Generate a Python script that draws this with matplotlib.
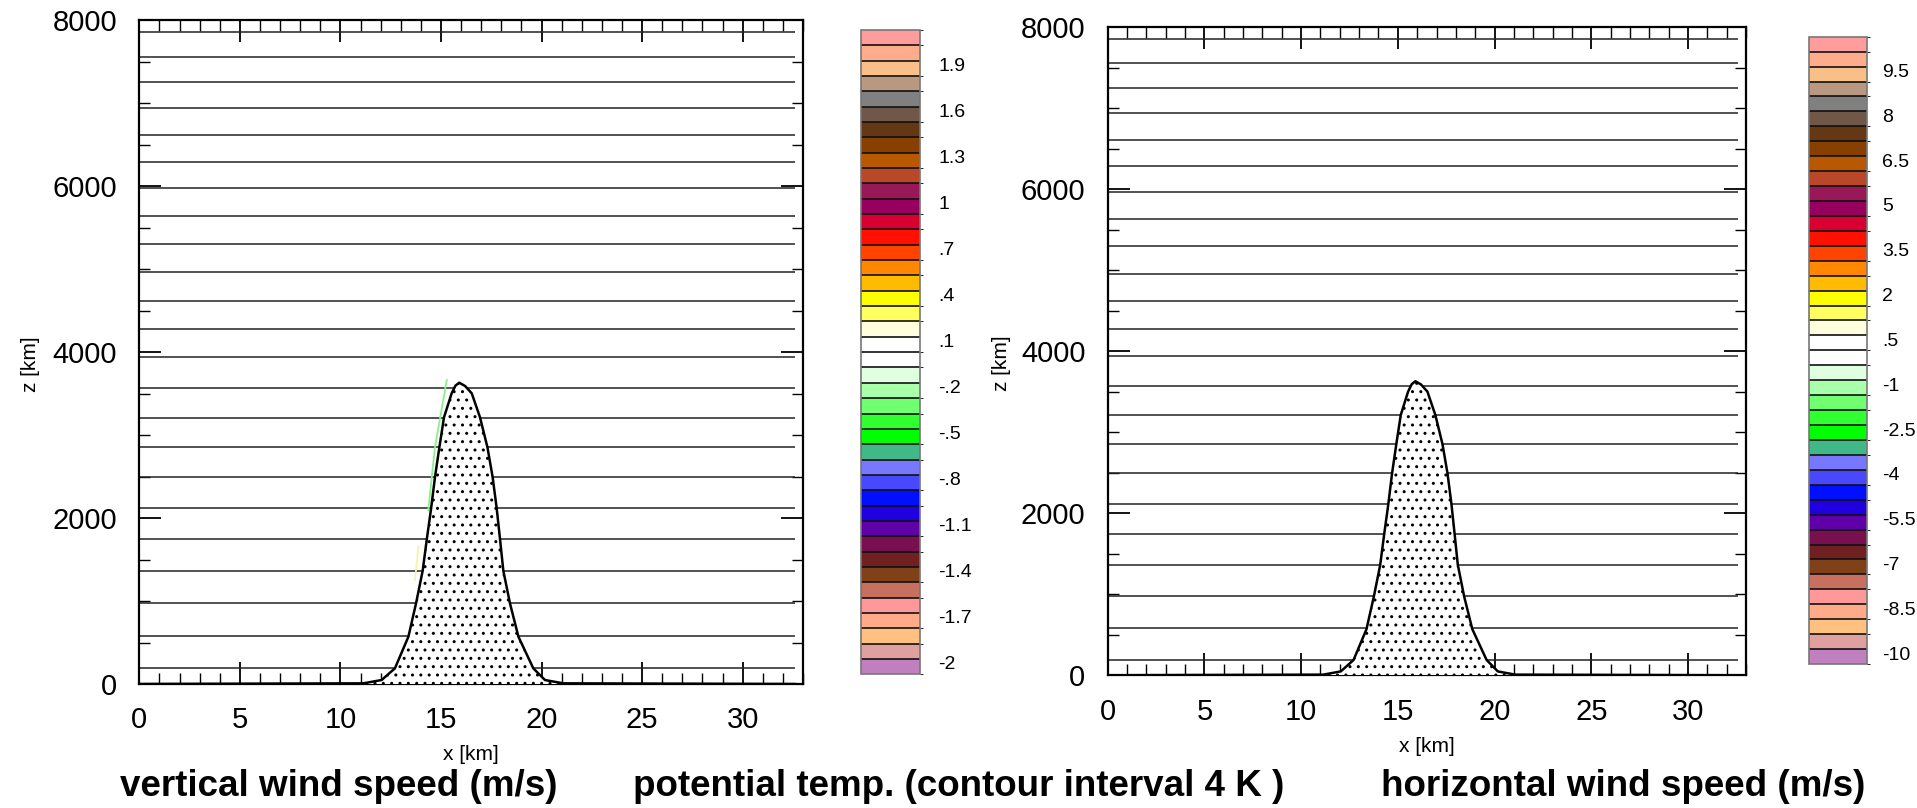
import numpy as np
import matplotlib
matplotlib.use("Agg")
import matplotlib.pyplot as plt
import matplotlib.transforms as mtransforms
from matplotlib.colors import ListedColormap, BoundaryNorm
from matplotlib.cm import ScalarMappable
from matplotlib.ticker import MultipleLocator

plt.rcParams['font.family'] = ['Liberation Sans', 'DejaVu Sans']
plt.rcParams['hatch.color'] = 'black'
plt.rcParams['hatch.linewidth'] = 1.0

# potential temperature contours (4 K apart), heights in m read at the left edge
theta_z = [189, 582, 980, 1365, 1743, 2117, 2498, 2859, 3208, 3570, 3936, 4277,
           4618, 4960, 5298, 5639, 5972, 6286, 6614, 6936, 7250, 7558, 7859]
domain_end = 32.6

# terrain profile (x in km, height in m)
terrain_x = [0, 11.14, 12.05, 12.71, 13.38, 13.76, 14.09, 14.29, 14.51, 14.70, 14.92,
             15.15, 15.53, 15.72, 15.91, 16.20, 16.53, 16.94, 17.31, 17.57, 17.77,
             17.94, 18.10, 18.43, 18.85, 19.59, 20.17, 21.08, 32.6]
terrain_z = [0, 8, 48, 189, 570, 972, 1365, 1735, 2117, 2490, 2852,
             3213, 3502, 3595, 3630, 3590, 3502, 3213, 2852, 2490, 2117,
             1735, 1365, 972, 570, 189, 48, 8, 0]

# faint w-shading streaks along the windward slope (left panel only)
green_x = [14.37, 14.70, 15.29]
green_z = [2096, 2852, 3663]
yellow_x = [13.71, 13.88]
yellow_z = [1253, 1654]

# colour table, listed top to bottom
cbar_colors = ['#FF9C9C', '#FFAC8C', '#F8C088', '#B89880', '#808080', '#705848',
               '#643814', '#884000', '#B85800', '#B84828', '#981858', '#980060',
               '#D80030', '#FF1000', '#FF4400', '#FF8800', '#FFBB00', '#FFFF00',
               '#FFFF60', '#FFFFDD', '#FFFFFF', '#FFFFFF', '#E0FFE0', '#AAFFAA',
               '#70FF70', '#30FF30', '#00FF00', '#40B888', '#7878FF', '#4848FF',
               '#0010FF', '#2000E0', '#6000A8', '#781050', '#702020', '#804018',
               '#C87060', '#FF9898', '#FFAA88', '#FFC080', '#E0A0A0', '#C080C0']

w_range = (-2.1, 2.1)
w_ticks = [1.9, 1.6, 1.3, 1.0, 0.7, 0.4, 0.1, -0.2, -0.5, -0.8, -1.1, -1.4, -1.7, -2.0]
w_labels = ['1.9', '1.6', '1.3', '1', '.7', '.4', '.1', '-.2', '-.5', '-.8',
            '-1.1', '-1.4', '-1.7', '-2']

u_range = (-10.5, 10.5)
u_ticks = [9.5, 8, 6.5, 5, 3.5, 2, 0.5, -1, -2.5, -4, -5.5, -7, -8.5, -10]
u_labels = ['9.5', '8', '6.5', '5', '3.5', '2', '.5', '-1', '-2.5', '-4', '-5.5',
            '-7', '-8.5', '-10']

titles = ['vertical wind speed (m/s)',
          'potential temp. (contour interval 4 K )',
          'horizontal wind speed (m/s)']

W, H = 1917, 808


def px_rect(x0, y0, x1, y1):
    return [x0 / W, 1 - y1 / H, (x1 - x0) / W, (y1 - y0) / H]


def draw_panel(ax, ylabel_x, streaks=False):
    ax.hlines(theta_z, 0, domain_end, color='#222222', lw=1.1, zorder=2)
    if streaks:
        ax.plot(green_x, green_z, color='#8CF08C', lw=1.3, zorder=2.5)
        ax.plot(yellow_x, yellow_z, color='#F4F4A8', lw=1.3, zorder=2.5)
    ax.fill_between(terrain_x, 0, terrain_z, facecolor='white', edgecolor='black',
                    hatch='..', linewidth=0, zorder=3)
    ax.plot(terrain_x, terrain_z, color='black', lw=1.8, zorder=4)

    ax.set_xlim(0, 33)
    ax.set_ylim(0, 8000)
    ax.xaxis.set_major_locator(MultipleLocator(5))
    ax.xaxis.set_minor_locator(MultipleLocator(1))
    ax.yaxis.set_major_locator(MultipleLocator(2000))
    ax.yaxis.set_minor_locator(MultipleLocator(500))
    ax.tick_params(which='both', direction='in', top=True, right=True,
                   labelsize=21, pad=16)
    ax.tick_params(which='major', length=16, width=1.3)
    ax.tick_params(which='minor', length=8, width=1.0)
    for s in ax.spines.values():
        s.set_linewidth(1.6)
    ax.set_xlabel('x [km]', fontsize=15, labelpad=8)
    ax.set_ylabel('z [km]', fontsize=15)
    ax.yaxis.set_label_coords(ylabel_x, 0.482)


def draw_cbar(fig, rect, vrange, ticks, labels, pad):
    cax = fig.add_axes(rect)
    cmap = ListedColormap(cbar_colors[::-1])
    bounds = np.linspace(vrange[0], vrange[1], len(cbar_colors) + 1)
    norm = BoundaryNorm(bounds, cmap.N)
    cb = fig.colorbar(ScalarMappable(norm=norm, cmap=cmap), cax=cax, drawedges=True)
    cb.dividers.set_color('#111111')
    cb.dividers.set_linewidth(1.2)
    cb.outline.set_edgecolor('#777777')
    cb.outline.set_linewidth(1.2)
    cb.set_ticks(ticks, labels=labels)
    cax.tick_params(length=0, labelsize=14, pad=pad)
    # labels sit a few pixels below their boundary in the original
    shift = mtransforms.ScaledTranslation(0, -0.04, fig.dpi_scale_trans)
    for t in cax.get_yticklabels():
        t.set_transform(t.get_transform() + shift)
    return cb


fig = plt.figure(figsize=(W / 100, H / 100), dpi=100)

ax1 = fig.add_axes(px_rect(139.3, 20, 803, 684))
draw_panel(ax1, -0.15, streaks=True)
ax2 = fig.add_axes(px_rect(1107.7, 27.3, 1746, 675.3))
draw_panel(ax2, -0.152)

draw_cbar(fig, px_rect(861.3, 30, 920, 674.3), w_range, w_ticks, w_labels, pad=13)
draw_cbar(fig, px_rect(1809.3, 36.7, 1866.7, 664), u_range, u_ticks, u_labels, pad=11)

for x0, txt in zip([120, 633, 1381], titles):
    fig.text(x0 / W, 1 - 787 / H, txt, fontsize=26.5, fontweight='bold',
             ha='left', va='center')

fig.savefig('out.png', dpi=100)
